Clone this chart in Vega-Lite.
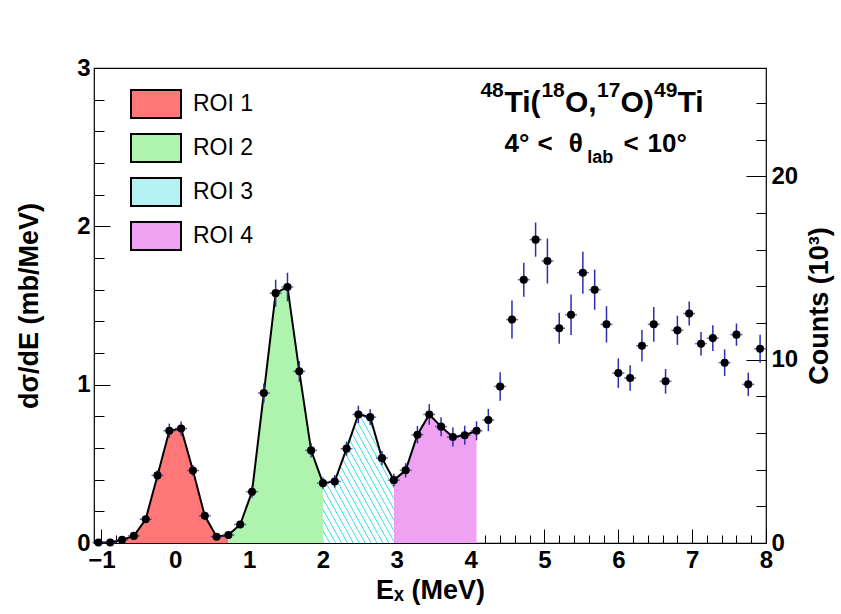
{
  "$schema": "https://vega.github.io/schema/vega-lite/v6.json",
  "width": 672,
  "height": 475,
  "autosize": "none",
  "padding": {"left": 94, "top": 68, "right": 75, "bottom": 71},
  "background": "white",
  "config": {
    "font": "Liberation Sans",
    "view": {"stroke": "black", "strokeWidth": 1.2}
  },
  "datasets": {
    "spec": [
      {"E": -1.04, "y": 0.003, "err": 0.004},
      {"E": -0.88, "y": 0.003, "err": 0.004},
      {"E": -0.72, "y": 0.02, "err": 0.008},
      {"E": -0.56, "y": 0.045, "err": 0.012},
      {"E": -0.40, "y": 0.15, "err": 0.022},
      {"E": -0.24, "y": 0.427, "err": 0.033},
      {"E": -0.08, "y": 0.709, "err": 0.045},
      {"E": 0.08, "y": 0.723, "err": 0.045},
      {"E": 0.24, "y": 0.458, "err": 0.035},
      {"E": 0.40, "y": 0.172, "err": 0.024},
      {"E": 0.56, "y": 0.04, "err": 0.012},
      {"E": 0.72, "y": 0.05, "err": 0.013},
      {"E": 0.88, "y": 0.117, "err": 0.022},
      {"E": 1.04, "y": 0.324, "err": 0.038},
      {"E": 1.20, "y": 0.947, "err": 0.06},
      {"E": 1.36, "y": 1.578, "err": 0.085},
      {"E": 1.52, "y": 1.617, "err": 0.09},
      {"E": 1.68, "y": 1.084, "err": 0.065},
      {"E": 1.84, "y": 0.585, "err": 0.045},
      {"E": 2.00, "y": 0.378, "err": 0.036},
      {"E": 2.16, "y": 0.389, "err": 0.04},
      {"E": 2.32, "y": 0.596, "err": 0.045},
      {"E": 2.48, "y": 0.812, "err": 0.055},
      {"E": 2.64, "y": 0.795, "err": 0.05},
      {"E": 2.80, "y": 0.536, "err": 0.045},
      {"E": 2.96, "y": 0.397, "err": 0.04},
      {"E": 3.12, "y": 0.459, "err": 0.045},
      {"E": 3.28, "y": 0.684, "err": 0.055},
      {"E": 3.44, "y": 0.812, "err": 0.065},
      {"E": 3.60, "y": 0.735, "err": 0.06},
      {"E": 3.76, "y": 0.669, "err": 0.06},
      {"E": 3.92, "y": 0.681, "err": 0.06},
      {"E": 4.08, "y": 0.709, "err": 0.06},
      {"E": 4.24, "y": 0.777, "err": 0.07},
      {"E": 4.40, "y": 0.989, "err": 0.09},
      {"E": 4.56, "y": 1.411, "err": 0.12},
      {"E": 4.72, "y": 1.663, "err": 0.107},
      {"E": 4.88, "y": 1.916, "err": 0.108},
      {"E": 5.04, "y": 1.781, "err": 0.142},
      {"E": 5.20, "y": 1.356, "err": 0.098},
      {"E": 5.36, "y": 1.442, "err": 0.128},
      {"E": 5.52, "y": 1.707, "err": 0.132},
      {"E": 5.68, "y": 1.600, "err": 0.127},
      {"E": 5.84, "y": 1.381, "err": 0.115},
      {"E": 6.00, "y": 1.073, "err": 0.093},
      {"E": 6.16, "y": 1.042, "err": 0.081},
      {"E": 6.32, "y": 1.246, "err": 0.099},
      {"E": 6.48, "y": 1.381, "err": 0.11},
      {"E": 6.64, "y": 1.021, "err": 0.078},
      {"E": 6.80, "y": 1.343, "err": 0.092},
      {"E": 6.96, "y": 1.449, "err": 0.076},
      {"E": 7.12, "y": 1.259, "err": 0.074},
      {"E": 7.28, "y": 1.294, "err": 0.081},
      {"E": 7.44, "y": 1.139, "err": 0.084},
      {"E": 7.60, "y": 1.316, "err": 0.07},
      {"E": 7.76, "y": 1.002, "err": 0.074},
      {"E": 7.92, "y": 1.227, "err": 0.089}
    ],
    "regions": [
      {"E": -0.72, "y": 0.02, "roi": "ROI 1"},
      {"E": -0.56, "y": 0.045, "roi": "ROI 1"},
      {"E": -0.40, "y": 0.15, "roi": "ROI 1"},
      {"E": -0.24, "y": 0.427, "roi": "ROI 1"},
      {"E": -0.08, "y": 0.709, "roi": "ROI 1"},
      {"E": 0.08, "y": 0.723, "roi": "ROI 1"},
      {"E": 0.24, "y": 0.458, "roi": "ROI 1"},
      {"E": 0.40, "y": 0.172, "roi": "ROI 1"},
      {"E": 0.56, "y": 0.04, "roi": "ROI 1"},
      {"E": 0.72, "y": 0.05, "roi": "ROI 1"},
      {"E": 0.72, "y": 0.05, "roi": "ROI 2"},
      {"E": 0.88, "y": 0.117, "roi": "ROI 2"},
      {"E": 1.04, "y": 0.324, "roi": "ROI 2"},
      {"E": 1.20, "y": 0.947, "roi": "ROI 2"},
      {"E": 1.36, "y": 1.578, "roi": "ROI 2"},
      {"E": 1.52, "y": 1.617, "roi": "ROI 2"},
      {"E": 1.68, "y": 1.084, "roi": "ROI 2"},
      {"E": 1.84, "y": 0.585, "roi": "ROI 2"},
      {"E": 2.00, "y": 0.378, "roi": "ROI 2"},
      {"E": 2.00, "y": 0.378, "roi": "ROI 3"},
      {"E": 2.16, "y": 0.389, "roi": "ROI 3"},
      {"E": 2.32, "y": 0.596, "roi": "ROI 3"},
      {"E": 2.48, "y": 0.812, "roi": "ROI 3"},
      {"E": 2.64, "y": 0.795, "roi": "ROI 3"},
      {"E": 2.80, "y": 0.536, "roi": "ROI 3"},
      {"E": 2.96, "y": 0.397, "roi": "ROI 3"},
      {"E": 2.96, "y": 0.397, "roi": "ROI 4"},
      {"E": 3.12, "y": 0.459, "roi": "ROI 4"},
      {"E": 3.28, "y": 0.684, "roi": "ROI 4"},
      {"E": 3.44, "y": 0.812, "roi": "ROI 4"},
      {"E": 3.60, "y": 0.735, "roi": "ROI 4"},
      {"E": 3.76, "y": 0.669, "roi": "ROI 4"},
      {"E": 3.92, "y": 0.681, "roi": "ROI 4"},
      {"E": 4.08, "y": 0.709, "roi": "ROI 4"}
    ]
  },
  "data": {"name": "spec"},
  "layer": [
    {
      "encoding": {
        "x": {
          "field": "E", "type": "quantitative",
          "scale": {"domain": [-1.1, 8], "nice": false, "zero": false},
          "axis": {
            "orient": "bottom", "values": [-1, 0, 1, 2, 3, 4, 5, 6, 7, 8], "format": "d",
            "domain": false, "grid": false, "tickColor": "black", "tickSize": -14, "tickWidth": 1,
            "labelFontSize": 24, "labelFontWeight": "bold", "labelColor": "black", "labelPadding": 19,
            "labelFlush": false, "labelOverlap": false,
            "title": "Eₓ (MeV)", "titleFontSize": 27, "titleFontWeight": "bold", "titleColor": "black", "titlePadding": 5
          }
        },
        "y": {
          "field": "y", "type": "quantitative",
          "scale": {"domain": [0, 3], "nice": false, "zero": false},
          "axis": {
            "orient": "left", "values": [0, 1, 2, 3], "format": "d",
            "domain": false, "grid": false, "tickColor": "black", "tickSize": -16, "tickWidth": 1,
            "labelFontSize": 24, "labelFontWeight": "bold", "labelColor": "black", "labelPadding": 20,
            "labelFlush": false, "labelOverlap": false,
            "title": "dσ/dE (mb/MeV)", "titleFontSize": 27, "titleFontWeight": "bold", "titleColor": "black", "titlePadding": 33
          }
        }
      },
      "layer": [
        {
          "data": {"name": "regions"},
          "mark": {"type": "area", "opacity": 1},
          "encoding": {
            "y": {"field": "y", "type": "quantitative", "stack": null},
            "color": {
              "field": "roi", "type": "nominal",
              "scale": {"domain": ["ROI 1", "ROI 2", "ROI 3", "ROI 4"], "range": ["#ff7777", "#aef4ae", "#b4f2f4", "#f0a2f2"]},
              "legend": {
                "orient": "none", "legendX": 36, "legendY": 10, "title": null,
                "symbolType": "M-1,-0.56L1,-0.56L1,0.56L-1,0.56Z", "symbolSize": 2500,
                "symbolStrokeColor": "black", "symbolStrokeWidth": 2, "symbolOpacity": 1,
                "labelFontSize": 23, "labelColor": "black", "labelOffset": 11, "rowPadding": -4
              }
            }
          }
        },
        {
          "data": {"name": "regions"},
          "transform": [{"filter": "datum.roi == 'ROI 3'"}],
          "mark": {
            "type": "area", "opacity": 1,
            "color": {
              "gradient": "linear", "x1": 0, "y1": 1, "x2": 1, "y2": 0,
              "stops": [
                {"offset": 0, "color": "white"}, {"offset": 0.00625, "color": "#22dbe8"}, {"offset": 0.0125, "color": "white"},
                {"offset": 0.04167, "color": "white"}, {"offset": 0.04792, "color": "#22dbe8"}, {"offset": 0.05417, "color": "white"},
                {"offset": 0.08333, "color": "white"}, {"offset": 0.08958, "color": "#22dbe8"}, {"offset": 0.09583, "color": "white"},
                {"offset": 0.125, "color": "white"}, {"offset": 0.13125, "color": "#22dbe8"}, {"offset": 0.1375, "color": "white"},
                {"offset": 0.16667, "color": "white"}, {"offset": 0.17292, "color": "#22dbe8"}, {"offset": 0.17917, "color": "white"},
                {"offset": 0.20833, "color": "white"}, {"offset": 0.21458, "color": "#22dbe8"}, {"offset": 0.22083, "color": "white"},
                {"offset": 0.25, "color": "white"}, {"offset": 0.25625, "color": "#22dbe8"}, {"offset": 0.2625, "color": "white"},
                {"offset": 0.29167, "color": "white"}, {"offset": 0.29792, "color": "#22dbe8"}, {"offset": 0.30417, "color": "white"},
                {"offset": 0.33333, "color": "white"}, {"offset": 0.33958, "color": "#22dbe8"}, {"offset": 0.34583, "color": "white"},
                {"offset": 0.375, "color": "white"}, {"offset": 0.38125, "color": "#22dbe8"}, {"offset": 0.3875, "color": "white"},
                {"offset": 0.41667, "color": "white"}, {"offset": 0.42292, "color": "#22dbe8"}, {"offset": 0.42917, "color": "white"},
                {"offset": 0.45833, "color": "white"}, {"offset": 0.46458, "color": "#22dbe8"}, {"offset": 0.47083, "color": "white"},
                {"offset": 0.5, "color": "white"}, {"offset": 0.50625, "color": "#22dbe8"}, {"offset": 0.5125, "color": "white"},
                {"offset": 0.54167, "color": "white"}, {"offset": 0.54792, "color": "#22dbe8"}, {"offset": 0.55417, "color": "white"},
                {"offset": 0.58333, "color": "white"}, {"offset": 0.58958, "color": "#22dbe8"}, {"offset": 0.59583, "color": "white"},
                {"offset": 0.625, "color": "white"}, {"offset": 0.63125, "color": "#22dbe8"}, {"offset": 0.6375, "color": "white"},
                {"offset": 0.66667, "color": "white"}, {"offset": 0.67292, "color": "#22dbe8"}, {"offset": 0.67917, "color": "white"},
                {"offset": 0.70833, "color": "white"}, {"offset": 0.71458, "color": "#22dbe8"}, {"offset": 0.72083, "color": "white"},
                {"offset": 0.75, "color": "white"}, {"offset": 0.75625, "color": "#22dbe8"}, {"offset": 0.7625, "color": "white"},
                {"offset": 0.79167, "color": "white"}, {"offset": 0.79792, "color": "#22dbe8"}, {"offset": 0.80417, "color": "white"},
                {"offset": 0.83333, "color": "white"}, {"offset": 0.83958, "color": "#22dbe8"}, {"offset": 0.84583, "color": "white"},
                {"offset": 0.875, "color": "white"}, {"offset": 0.88125, "color": "#22dbe8"}, {"offset": 0.8875, "color": "white"},
                {"offset": 0.91667, "color": "white"}, {"offset": 0.92292, "color": "#22dbe8"}, {"offset": 0.92917, "color": "white"},
                {"offset": 0.95833, "color": "white"}, {"offset": 0.96458, "color": "#22dbe8"}, {"offset": 0.97083, "color": "white"},
                {"offset": 1, "color": "white"}
              ]
            }
          },
          "encoding": {
            "y": {"field": "y", "type": "quantitative", "stack": null}
          }
        },
        {
          "transform": [{"filter": "datum.E <= 4.1"}],
          "mark": {"type": "line", "color": "black", "strokeWidth": 2}
        },
        {
          "mark": {"type": "errorbar", "color": "#2d2db4", "thickness": 1.5},
          "encoding": {"yError": {"field": "err"}}
        },
        {
          "mark": {"type": "tick", "orient": "horizontal", "color": "#2d2db4", "size": 12, "thickness": 1.5}
        },
        {
          "mark": {"type": "point", "shape": "circle", "filled": true, "color": "black", "size": 65, "opacity": 1}
        }
      ]
    },
    {
      "mark": {"type": "point", "opacity": 0},
      "encoding": {
        "x": {
          "field": "E", "type": "quantitative",
          "scale": {"domain": [-1.1, 8], "nice": false, "zero": false},
          "axis": {
            "orient": "bottom", "values": [-0.8, -0.6, -0.4, -0.2, 0.2, 0.4, 0.6, 0.8, 1.2, 1.4, 1.6, 1.8, 2.2, 2.4, 2.6, 2.8, 3.2, 3.4, 3.6, 3.8, 4.2, 4.4, 4.6, 4.8, 5.2, 5.4, 5.6, 5.8, 6.2, 6.4, 6.6, 6.8, 7.2, 7.4, 7.6, 7.8],
            "labels": false, "domain": false, "grid": false, "tickColor": "black", "tickSize": -8, "tickWidth": 1, "title": null
          }
        },
        "y": {
          "field": "y", "type": "quantitative",
          "scale": {"domain": [0, 3], "nice": false, "zero": false},
          "axis": {
            "orient": "left", "values": [0.2, 0.4, 0.6, 0.8, 1.2, 1.4, 1.6, 1.8, 2.2, 2.4, 2.6, 2.8],
            "labels": false, "domain": false, "grid": false, "tickColor": "black", "tickSize": -10, "tickWidth": 1, "title": null
          }
        }
      }
    },
    {
      "mark": {"type": "point", "opacity": 0},
      "encoding": {
        "x": {"field": "E", "type": "quantitative", "scale": {"domain": [-1.1, 8], "nice": false, "zero": false}, "axis": null},
        "y": {
          "field": "y", "type": "quantitative",
          "scale": {"domain": [0, 25.9], "nice": false, "zero": false},
          "axis": {
            "orient": "right", "values": [0, 10, 20], "format": "d",
            "domain": false, "grid": false, "tickColor": "black", "tickSize": -20, "tickWidth": 1,
            "labelFontSize": 24, "labelFontWeight": "bold", "labelColor": "black", "labelPadding": 25,
            "labelFlush": false, "labelOverlap": false,
            "title": "Counts (10³)", "titleAngle": 270, "titleFontSize": 27, "titleFontWeight": "bold", "titleColor": "black", "titlePadding": 36
          }
        }
      }
    },
    {
      "mark": {"type": "point", "opacity": 0},
      "encoding": {
        "x": {"field": "E", "type": "quantitative", "scale": {"domain": [-1.1, 8], "nice": false, "zero": false}, "axis": null},
        "y": {
          "field": "y", "type": "quantitative",
          "scale": {"domain": [0, 25.9], "nice": false, "zero": false},
          "axis": {
            "orient": "right", "values": [2, 4, 6, 8, 12, 14, 16, 18, 22, 24],
            "labels": false, "domain": false, "grid": false, "tickColor": "black", "tickSize": -10, "tickWidth": 1, "title": null
          }
        }
      }
    },
    {
      "data": {"values": [
        {"x": 4.458, "y": 2.723, "t": "Ti("},
        {"x": 5.278, "y": 2.723, "t": "O,"},
        {"x": 6.030, "y": 2.723, "t": "O)"},
        {"x": 6.802, "y": 2.723, "t": "Ti"}
      ]},
      "mark": {"type": "text", "fontSize": 30, "fontWeight": "bold", "color": "black", "align": "left", "baseline": "alphabetic"},
      "encoding": {
        "x": {"field": "x", "type": "quantitative", "scale": {"domain": [-1.1, 8], "nice": false, "zero": false}, "axis": null},
        "y": {"field": "y", "type": "quantitative", "scale": {"domain": [0, 3], "nice": false, "zero": false}, "axis": null},
        "text": {"field": "t"}
      }
    },
    {
      "data": {"values": [
        {"x": 4.133, "y": 2.817, "t": "48"},
        {"x": 4.959, "y": 2.817, "t": "18"},
        {"x": 5.711, "y": 2.817, "t": "17"},
        {"x": 6.484, "y": 2.817, "t": "49"}
      ]},
      "mark": {"type": "text", "fontSize": 21, "fontWeight": "bold", "color": "black", "align": "left", "baseline": "alphabetic"},
      "encoding": {
        "x": {"field": "x", "type": "quantitative", "scale": {"domain": [-1.1, 8], "nice": false, "zero": false}, "axis": null},
        "y": {"field": "y", "type": "quantitative", "scale": {"domain": [0, 3], "nice": false, "zero": false}, "axis": null},
        "text": {"field": "t"}
      }
    },
    {
      "data": {"values": [
        {"x": 4.458, "y": 2.47, "t": "4°"},
        {"x": 4.905, "y": 2.47, "t": "<"},
        {"x": 5.33, "y": 2.47, "t": "θ"},
        {"x": 6.070, "y": 2.47, "t": "<"},
        {"x": 6.396, "y": 2.47, "t": "10°"}
      ]},
      "mark": {"type": "text", "fontSize": 26, "fontWeight": "bold", "color": "black", "align": "left", "baseline": "alphabetic"},
      "encoding": {
        "x": {"field": "x", "type": "quantitative", "scale": {"domain": [-1.1, 8], "nice": false, "zero": false}, "axis": null},
        "y": {"field": "y", "type": "quantitative", "scale": {"domain": [0, 3], "nice": false, "zero": false}, "axis": null},
        "text": {"field": "t"}
      }
    },
    {
      "data": {"values": [
        {"x": 5.58, "y": 2.397, "t": "lab"}
      ]},
      "mark": {"type": "text", "fontSize": 18, "fontWeight": "bold", "color": "black", "align": "left", "baseline": "alphabetic"},
      "encoding": {
        "x": {"field": "x", "type": "quantitative", "scale": {"domain": [-1.1, 8], "nice": false, "zero": false}, "axis": null},
        "y": {"field": "y", "type": "quantitative", "scale": {"domain": [0, 3], "nice": false, "zero": false}, "axis": null},
        "text": {"field": "t"}
      }
    }
  ],
  "resolve": {
    "scale": {"x": "independent", "y": "independent"},
    "axis": {"x": "independent", "y": "independent"}
  }
}
